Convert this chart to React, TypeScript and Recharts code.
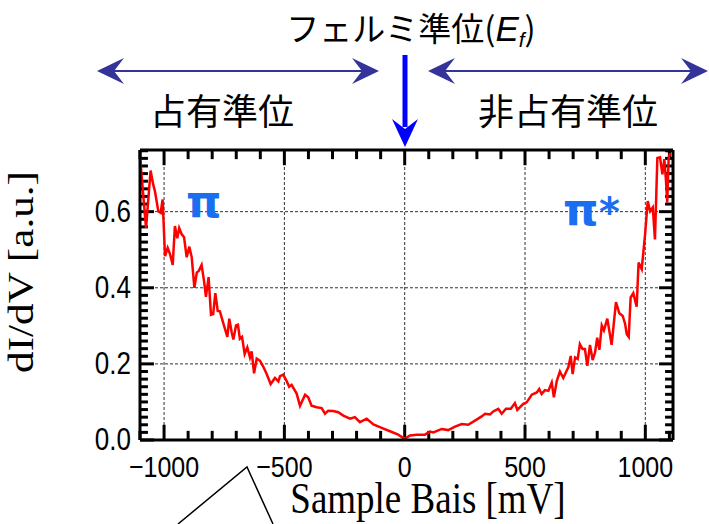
import React from "react";
import { LineChart, Line, XAxis, YAxis, ReferenceLine } from "recharts";

// Sample bias (mV) and dI/dV (a.u.)
const biasMv = [
  -1100, -1075, -1056, -1045, -1038, -1024, -1014, -1006, -996, -985,
  -975, -964, -955, -945, -937, -927, -917, -906, -895, -885,
  -874, -864, -855, -844, -834, -826, -815, -805, -796, -787,
  -777, -768, -754, -737, -729, -719, -712, -701, -693, -685,
  -676, -665, -654, -643, -636, -626, -615, -601, -588, -574,
  -557, -539, -525, -518, -505, -490, -480, -470, -449, -435,
  -414, -401, -387, -366, -345, -331, -318, -297, -276, -255,
  -227, -207, -186, -158, -130, -96, -61, -27, 0, 22,
  50, 84, 105, 119, 154, 181, 209, 237, 264, 292,
  320, 334, 355, 368, 389, 403, 421, 441, 458, 468,
  493, 507, 528, 549, 559, 569, 583, 597, 611, 620,
  632, 645, 659, 673, 680, 690, 698, 708, 719, 728,
  739, 749, 759, 770, 781, 791, 800, 809, 819, 828,
  842, 860, 878, 892, 906, 916, 923, 931, 939, 950,
  964, 972, 985, 999, 1010, 1020, 1031, 1040, 1050, 1061,
  1071, 1079, 1086, 1091, 1097, 1103,
];
const didv = [
  0.745, 0.557, 0.708, 0.671, 0.654, 0.601, 0.597, 0.632, 0.483, 0.505,
  0.488, 0.46, 0.562, 0.53, 0.557, 0.541, 0.533, 0.48, 0.508, 0.48,
  0.4, 0.44, 0.445, 0.46, 0.418, 0.376, 0.428, 0.329, 0.331, 0.386,
  0.339, 0.338, 0.307, 0.271, 0.319, 0.283, 0.264, 0.301, 0.303, 0.266,
  0.271, 0.226, 0.243, 0.217, 0.233, 0.175, 0.214, 0.208, 0.193, 0.174,
  0.147, 0.163, 0.154, 0.168, 0.172, 0.154, 0.14, 0.145, 0.122, 0.09,
  0.119, 0.112, 0.09, 0.086, 0.084, 0.069, 0.077, 0.076, 0.073, 0.064,
  0.056, 0.06, 0.047, 0.056, 0.041, 0.032, 0.023, 0.014, 0.003, 0.012,
  0.014, 0.014, 0.022, 0.02, 0.029, 0.026, 0.035, 0.042, 0.04, 0.051,
  0.062, 0.069, 0.067, 0.075, 0.082, 0.069, 0.082, 0.082, 0.097, 0.079,
  0.095, 0.099, 0.119, 0.125, 0.134, 0.121, 0.131, 0.129, 0.151, 0.112,
  0.155, 0.18, 0.163, 0.182, 0.191, 0.221, 0.173, 0.217, 0.213, 0.252,
  0.239, 0.239, 0.195, 0.25, 0.21, 0.23, 0.269, 0.237, 0.301, 0.288,
  0.319, 0.25, 0.362, 0.333, 0.326, 0.305, 0.278, 0.271, 0.375, 0.386,
  0.35, 0.466, 0.449, 0.54, 0.628, 0.601, 0.611, 0.527, 0.741, 0.743,
  0.698, 0.738, 0.68, 0.624, 0.741, 0.754,
];

const xTicks = [
  -1100, -1000, -900, -800, -700, -600, -500, -400, -300, -200, -100, 0,
  100, 200, 300, 400, 500, 600, 700, 800, 900, 1000, 1100,
];
const xLabelTicks = [-1000, -500, 0, 500, 1000];
const yTicks = [
  0, 0.02, 0.04, 0.06, 0.08, 0.1, 0.12, 0.14, 0.16, 0.18, 0.2, 0.22, 0.24,
  0.26, 0.28, 0.3, 0.32, 0.34, 0.36, 0.38, 0.4, 0.42, 0.44, 0.46, 0.48, 0.5,
  0.52, 0.54, 0.56, 0.58, 0.6, 0.62, 0.64, 0.66, 0.68, 0.7, 0.72, 0.74, 0.76,
];
const yLabelTicks = [0, 0.2, 0.4, 0.6];

const data = biasMv.map((x, i) => ({ x, y: didv[i] }));

const X_MIN = -1100;
const X_MAX = 1115;
const Y_MIN = 0;
const Y_MAX = 0.762;

// inward tick lengths, in data units (≈9/15 px vertically, ≈8/14 px horizontally)
const XT_MINOR = 0.024;
const XT_MAJOR = 0.04;
const YT_MINOR = 33;
const YT_MAJOR = 58;
const TICK_COLOR = "#000";

const TICK_FONT = "'Liberation Sans', Arial, sans-serif";
const SERIF = "'Liberation Serif', 'Times New Roman', serif";
const CJK = "'Noto Sans CJK JP', 'Noto Sans CJK SC', sans-serif";
const AXIS = { stroke: "#000", strokeWidth: 3 };

const isMajorX = (v: number) => xLabelTicks.includes(v);
const isMajorY = (v: number) => yLabelTicks.some((t) => Math.abs(t - v) < 1e-6);
const fmtX = (v: number) => (v < 0 ? "\u2212" + Math.abs(v) : String(v));

const BottomLabel = (props: any) => {
  const { x, y, payload } = props;
  if (!isMajorX(payload.value)) return <g />;
  return (
    <text
      transform={`translate(${x},${y + 37}) scale(1,1.2)`}
      textAnchor="middle"
      fontSize={25}
      fontFamily={TICK_FONT}
      fill="#000"
    >
      {fmtX(payload.value)}
    </text>
  );
};

const LeftLabel = (props: any) => {
  const { x, y, payload } = props;
  if (!isMajorY(payload.value)) return <g />;
  return (
    <text
      transform={`translate(${x - 9},${y + 10}) scale(1,1.2)`}
      textAnchor="end"
      fontSize={26}
      fontFamily={TICK_FONT}
      fill="#000"
    >
      {payload.value.toFixed(1)}
    </text>
  );
};

const tickSegments = () => {
  const out: React.ReactNode[] = [];
  xTicks.forEach((v) => {
    const len = isMajorX(v) ? XT_MAJOR : XT_MINOR;
    out.push(
      <ReferenceLine key={"tb" + v} segment={[{ x: v, y: Y_MIN }, { x: v, y: Y_MIN + len }]}
        stroke={TICK_COLOR} strokeWidth={3} ifOverflow="visible" />,
      <ReferenceLine key={"tt" + v} segment={[{ x: v, y: Y_MAX }, { x: v, y: Y_MAX - len }]}
        stroke={TICK_COLOR} strokeWidth={3} ifOverflow="visible" />
    );
  });
  yTicks.forEach((v) => {
    const len = isMajorY(v) ? YT_MAJOR : YT_MINOR;
    out.push(
      <ReferenceLine key={"tl" + v} segment={[{ x: X_MIN, y: v }, { x: X_MIN + len, y: v }]}
        stroke={TICK_COLOR} strokeWidth={3} ifOverflow="visible" />,
      <ReferenceLine key={"tr" + v} segment={[{ x: X_MAX, y: v }, { x: X_MAX - len, y: v }]}
        stroke={TICK_COLOR} strokeWidth={3} ifOverflow="visible" />
    );
  });
  return out;
};

const arrowHead = (tipX: number, y: number, dir: number) =>
  `M${tipX},${y} L${tipX + dir * 27},${y - 13} L${tipX + dir * 17},${y} L${tipX + dir * 27},${y + 13} Z`;

const PI_FONT = "'DejaVu Sans', sans-serif";
const PI_BLUE = "#1a6ff0";

const Overlay = () => (
  <svg
    width={709}
    height={524}
    style={{ position: "absolute", left: 0, top: 0, pointerEvents: "none" }}
  >
    {/* title */}
    <text x={411} y={41} textAnchor="middle" fontSize={33} fontFamily={CJK} fill="#000">
      フェルミ準位(
      <tspan fontStyle="italic" fontFamily={TICK_FONT} fontSize={35}>E</tspan>
      <tspan fontStyle="italic" fontFamily={TICK_FONT} fontSize={21} dy={6}>f</tspan>
      <tspan dy={-6}>)</tspan>
    </text>

    {/* occupied / unoccupied arrows */}
    <g fill="#33339a" stroke="none">
      <line x1={110} x2={366} y1={71} y2={71} stroke="#33339a" strokeWidth={2} />
      <path d={arrowHead(97, 71, 1)} />
      <path d={arrowHead(379, 71, -1)} />
      <line x1={441} x2={695} y1={71} y2={71} stroke="#33339a" strokeWidth={2} />
      <path d={arrowHead(428, 71, 1)} />
      <path d={arrowHead(708, 71, -1)} />
    </g>

    {/* Fermi level arrow */}
    <g fill="#0000ff">
      <rect x={402.5} y={55} width={5} height={72} />
      <path d="M405,147 L392,119 L405,129 L418,119 Z" />
    </g>

    <text x={150} y={125} fontSize={36} fontFamily={CJK} fill="#000">占有準位</text>
    <text x={478} y={125} fontSize={36} fontFamily={CJK} fill="#000">非占有準位</text>

    {/* pi labels */}
    <text x={186} y={217} fontSize={45} fontWeight="bold" fontFamily={PI_FONT} fill={PI_BLUE}>π</text>
    <text x={563} y={225} fontSize={45} fontWeight="bold" fontFamily={PI_FONT} fill={PI_BLUE}>π</text>
    <text x={599} y={226} fontSize={40} fontWeight="bold" fontFamily={PI_FONT} fill={PI_BLUE}>*</text>

    {/* axis titles */}
    <text
      transform="translate(428,513) scale(1,1.2)"
      textAnchor="middle"
      fontSize={37}
      fontFamily={SERIF}
      fill="#000"
    >
      Sample Bais [mV]
    </text>
    <text
      transform="translate(33,272) rotate(-90) scale(1.2,1)"
      textAnchor="middle"
      fontSize={36}
      fontFamily={SERIF}
      fill="#000"
    >
      dI/dV [a.u.]
    </text>

    {/* lines at bottom left */}
    <polyline points="178,524 247,467 273,524" fill="none" stroke="#000" strokeWidth={1.5} />
  </svg>
);

export default function App() {
  return (
    <div style={{ position: "absolute", left: 0, top: 0, width: 709, height: 524, background: "#fff" }}>
      <LineChart
        width={709}
        height={524}
        data={data}
        margin={{ top: 140, right: 26, bottom: 44, left: 80 }}
      >
        <XAxis
          dataKey="x"
          type="number"
          domain={[X_MIN, X_MAX]}
          ticks={xTicks}
          interval={0}
          allowDataOverflow
          height={40}
          tickSize={0}
          tickMargin={0}
          tickLine={false}
          axisLine={AXIS}
          tick={BottomLabel}
        />
        <XAxis
          xAxisId="top"
          orientation="top"
          type="number"
          domain={[X_MIN, X_MAX]}
          allowDataOverflow
          height={10}
          tickLine={false}
          axisLine={AXIS}
          tick={false}
        />
        <YAxis
          type="number"
          domain={[Y_MIN, Y_MAX]}
          ticks={yTicks}
          interval={0}
          allowDataOverflow
          width={60}
          tickSize={0}
          tickMargin={0}
          tickLine={false}
          axisLine={AXIS}
          tick={LeftLabel}
        />
        <YAxis
          yAxisId="right"
          orientation="right"
          type="number"
          domain={[Y_MIN, Y_MAX]}
          allowDataOverflow
          width={10}
          tickLine={false}
          axisLine={AXIS}
          tick={false}
        />
        {xLabelTicks.map((v) => (
          <ReferenceLine key={"gx" + v} x={v} stroke="#333" strokeDasharray="3 2" strokeWidth={1} />
        ))}
        {yLabelTicks.slice(1).map((v) => (
          <ReferenceLine key={"gy" + v} y={v} stroke="#333" strokeDasharray="3 2" strokeWidth={1} />
        ))}
        {tickSegments()}
        <Line
          dataKey="y"
          type="linear"
          stroke="#ff0000"
          strokeWidth={2.5}
          dot={false}
          isAnimationActive={false}
        />
      </LineChart>
      <Overlay />
    </div>
  );
}
